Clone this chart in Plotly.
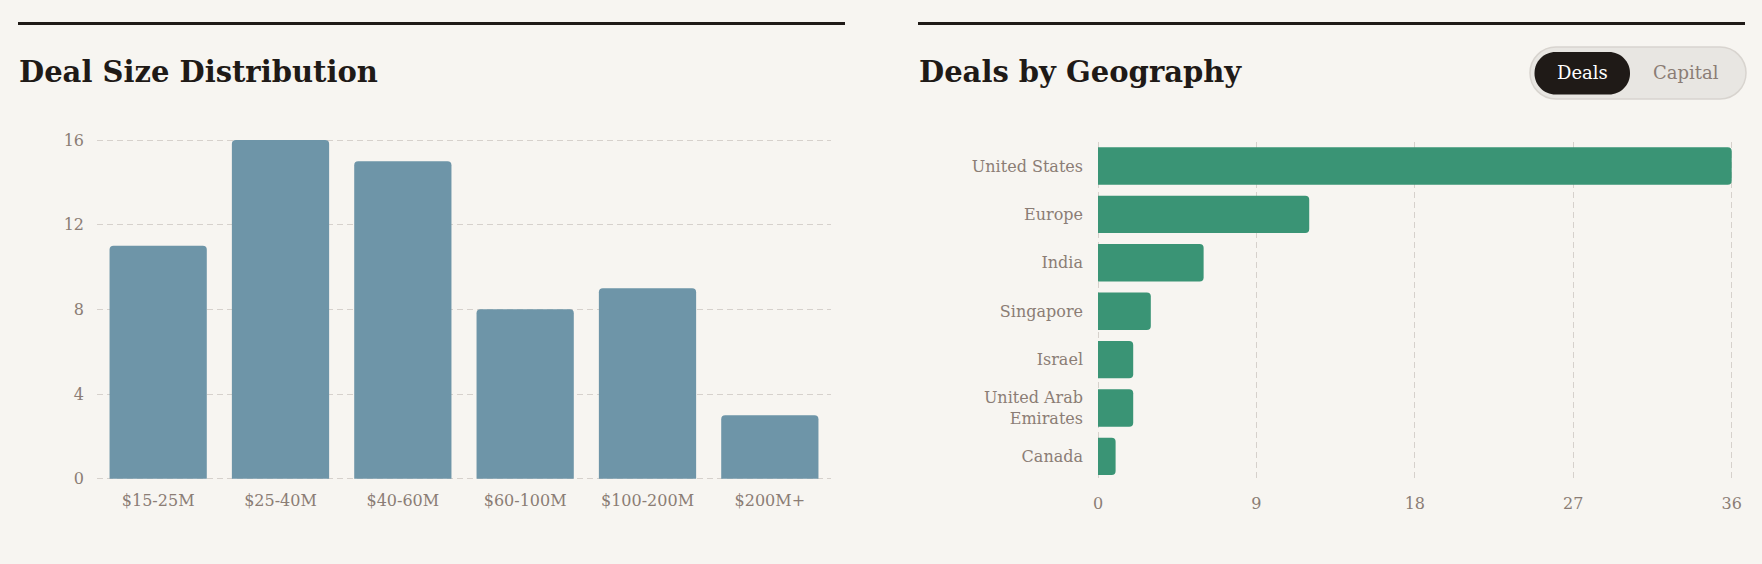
import plotly.graph_objects as go

W, H = 1762, 564

# ---- data ----
size_buckets = ["$15-25M", "$25-40M", "$40-60M", "$60-100M", "$100-200M", "$200M+"]
size_counts = [11, 16, 15, 8, 9, 3]
size_ticks = [0, 4, 8, 12, 16]

geo_names = ["United States", "Europe", "India", "Singapore", "Israel",
             "United Arab<br>Emirates", "Canada"]
geo_deals = [36, 12, 6, 3, 2, 2, 1]
geo_ticks = [0, 9, 18, 27, 36]

# ---- style ----
BG = "#f7f5f1"
INK = "#1f1a17"
MUTED = "#8b7d75"
GRID = "#d6d1cc"
BLUE = "#6e95a8"
GREEN = "#3a9475"
FONT = "DejaVu Serif"


def px(x):
    return x / W


def py(y):
    return 1 - y / H


fig = go.Figure()

fig.add_trace(go.Bar(
    x=size_buckets, y=size_counts, xaxis="x", yaxis="y",
    marker=dict(color=BLUE, cornerradius=4, line=dict(width=0)),
    hoverinfo="x+y", showlegend=False,
))

fig.add_trace(go.Bar(
    x=geo_deals, y=geo_names, orientation="h", xaxis="x2", yaxis="y2",
    marker=dict(color=GREEN, cornerradius=4, line=dict(width=0)),
    hoverinfo="x+y", showlegend=False,
))

tickfont = dict(family=FONT, size=16, color=MUTED)


def pill(x0, y0, x1, y1, r):
    k = 0.5523 * r
    pts = []
    pts.append(f"M {px(x0 + r)},{py(y0)}")
    pts.append(f"L {px(x1 - r)},{py(y0)}")
    pts.append(f"C {px(x1 - r + k)},{py(y0)} {px(x1)},{py(y0 + r - k)} {px(x1)},{py(y0 + r)}")
    pts.append(f"L {px(x1)},{py(y1 - r)}")
    pts.append(f"C {px(x1)},{py(y1 - r + k)} {px(x1 - r + k)},{py(y1)} {px(x1 - r)},{py(y1)}")
    pts.append(f"L {px(x0 + r)},{py(y1)}")
    pts.append(f"C {px(x0 + r - k)},{py(y1)} {px(x0)},{py(y1 - r + k)} {px(x0)},{py(y1 - r)}")
    pts.append(f"L {px(x0)},{py(y0 + r)}")
    pts.append(f"C {px(x0)},{py(y0 + r - k)} {px(x0 + r - k)},{py(y0)} {px(x0 + r)},{py(y0)} Z")
    return " ".join(pts)


shapes = [
    dict(type="line", xref="paper", yref="paper", x0=px(18), x1=px(845),
         y0=py(23.5), y1=py(23.5), line=dict(color=INK, width=3)),
    dict(type="line", xref="paper", yref="paper", x0=px(918), x1=px(1745),
         y0=py(23.5), y1=py(23.5), line=dict(color=INK, width=3)),
    dict(type="path", xref="paper", yref="paper", path=pill(1530, 47, 1746, 99, 26),
         fillcolor="#e8e6e2", line=dict(color="#d8d4cf", width=1.5)),
    dict(type="path", xref="paper", yref="paper", path=pill(1534.5, 52, 1630, 94.5, 21),
         fillcolor=INK, line=dict(width=0)),
]

annotations = [
    dict(text="<b>Deal Size Distribution</b>", xref="paper", yref="paper",
         x=px(17), y=py(72), xanchor="left", yanchor="middle", showarrow=False,
         font=dict(family=FONT, size=29, color=INK)),
    dict(text="<b>Deals by Geography</b>", xref="paper", yref="paper",
         x=px(917), y=py(72), xanchor="left", yanchor="middle", showarrow=False,
         font=dict(family=FONT, size=29, color=INK)),
    dict(text="Deals", xref="paper", yref="paper",
         x=px(1582), y=py(73), xanchor="center", yanchor="middle", showarrow=False,
         font=dict(family=FONT, size=18, color="#ffffff")),
    dict(text="Capital", xref="paper", yref="paper",
         x=px(1686), y=py(73), xanchor="center", yanchor="middle", showarrow=False,
         font=dict(family=FONT, size=18, color=MUTED)),
]

# pad ranges by ~3px so the edge grid lines (0 / max) are drawn
LY_PAD = 3 / 21.17
RX_PAD = 3 / 17.6

fig.update_layout(
    width=W, height=H,
    autosize=False,
    margin=dict(l=0, r=0, t=0, b=0, pad=0, autoexpand=False),
    paper_bgcolor=BG, plot_bgcolor=BG,
    bargap=0.205,
    shapes=shapes,
    annotations=annotations,
    xaxis=dict(domain=[px(97), px(831)], showgrid=False, zeroline=False,
               showline=False, ticks="", tickfont=tickfont, ticklabelstandoff=7,
               automargin=False, fixedrange=True),
    yaxis=dict(domain=[py(481.7), py(137)], range=[-LY_PAD, 16 + LY_PAD],
               tickvals=size_ticks,
               showgrid=True, gridcolor=GRID, griddash="6px,4px", gridwidth=1,
               zeroline=False, showline=False, ticks="", tickfont=tickfont,
               ticklabelstandoff=12, automargin=False, fixedrange=True),
    xaxis2=dict(domain=[px(1095), px(1734.7)], anchor="y2",
                range=[-RX_PAD, 36 + RX_PAD],
                tickvals=geo_ticks, showgrid=True, gridcolor=GRID,
                griddash="6px,4px", gridwidth=1, zeroline=False, showline=False,
                ticks="", tickfont=tickfont, ticklabelstandoff=11,
                automargin=False, fixedrange=True),
    yaxis2=dict(domain=[py(480.6), py(141.8)], anchor="x2", autorange="reversed",
                showgrid=False, zeroline=False, showline=False, ticks="",
                tickfont=tickfont, ticklabelstandoff=11, automargin=False,
                fixedrange=True),
)

fig.update_traces(selector=dict(xaxis="x2"), width=0.773)

fig.write_html("out.html")
